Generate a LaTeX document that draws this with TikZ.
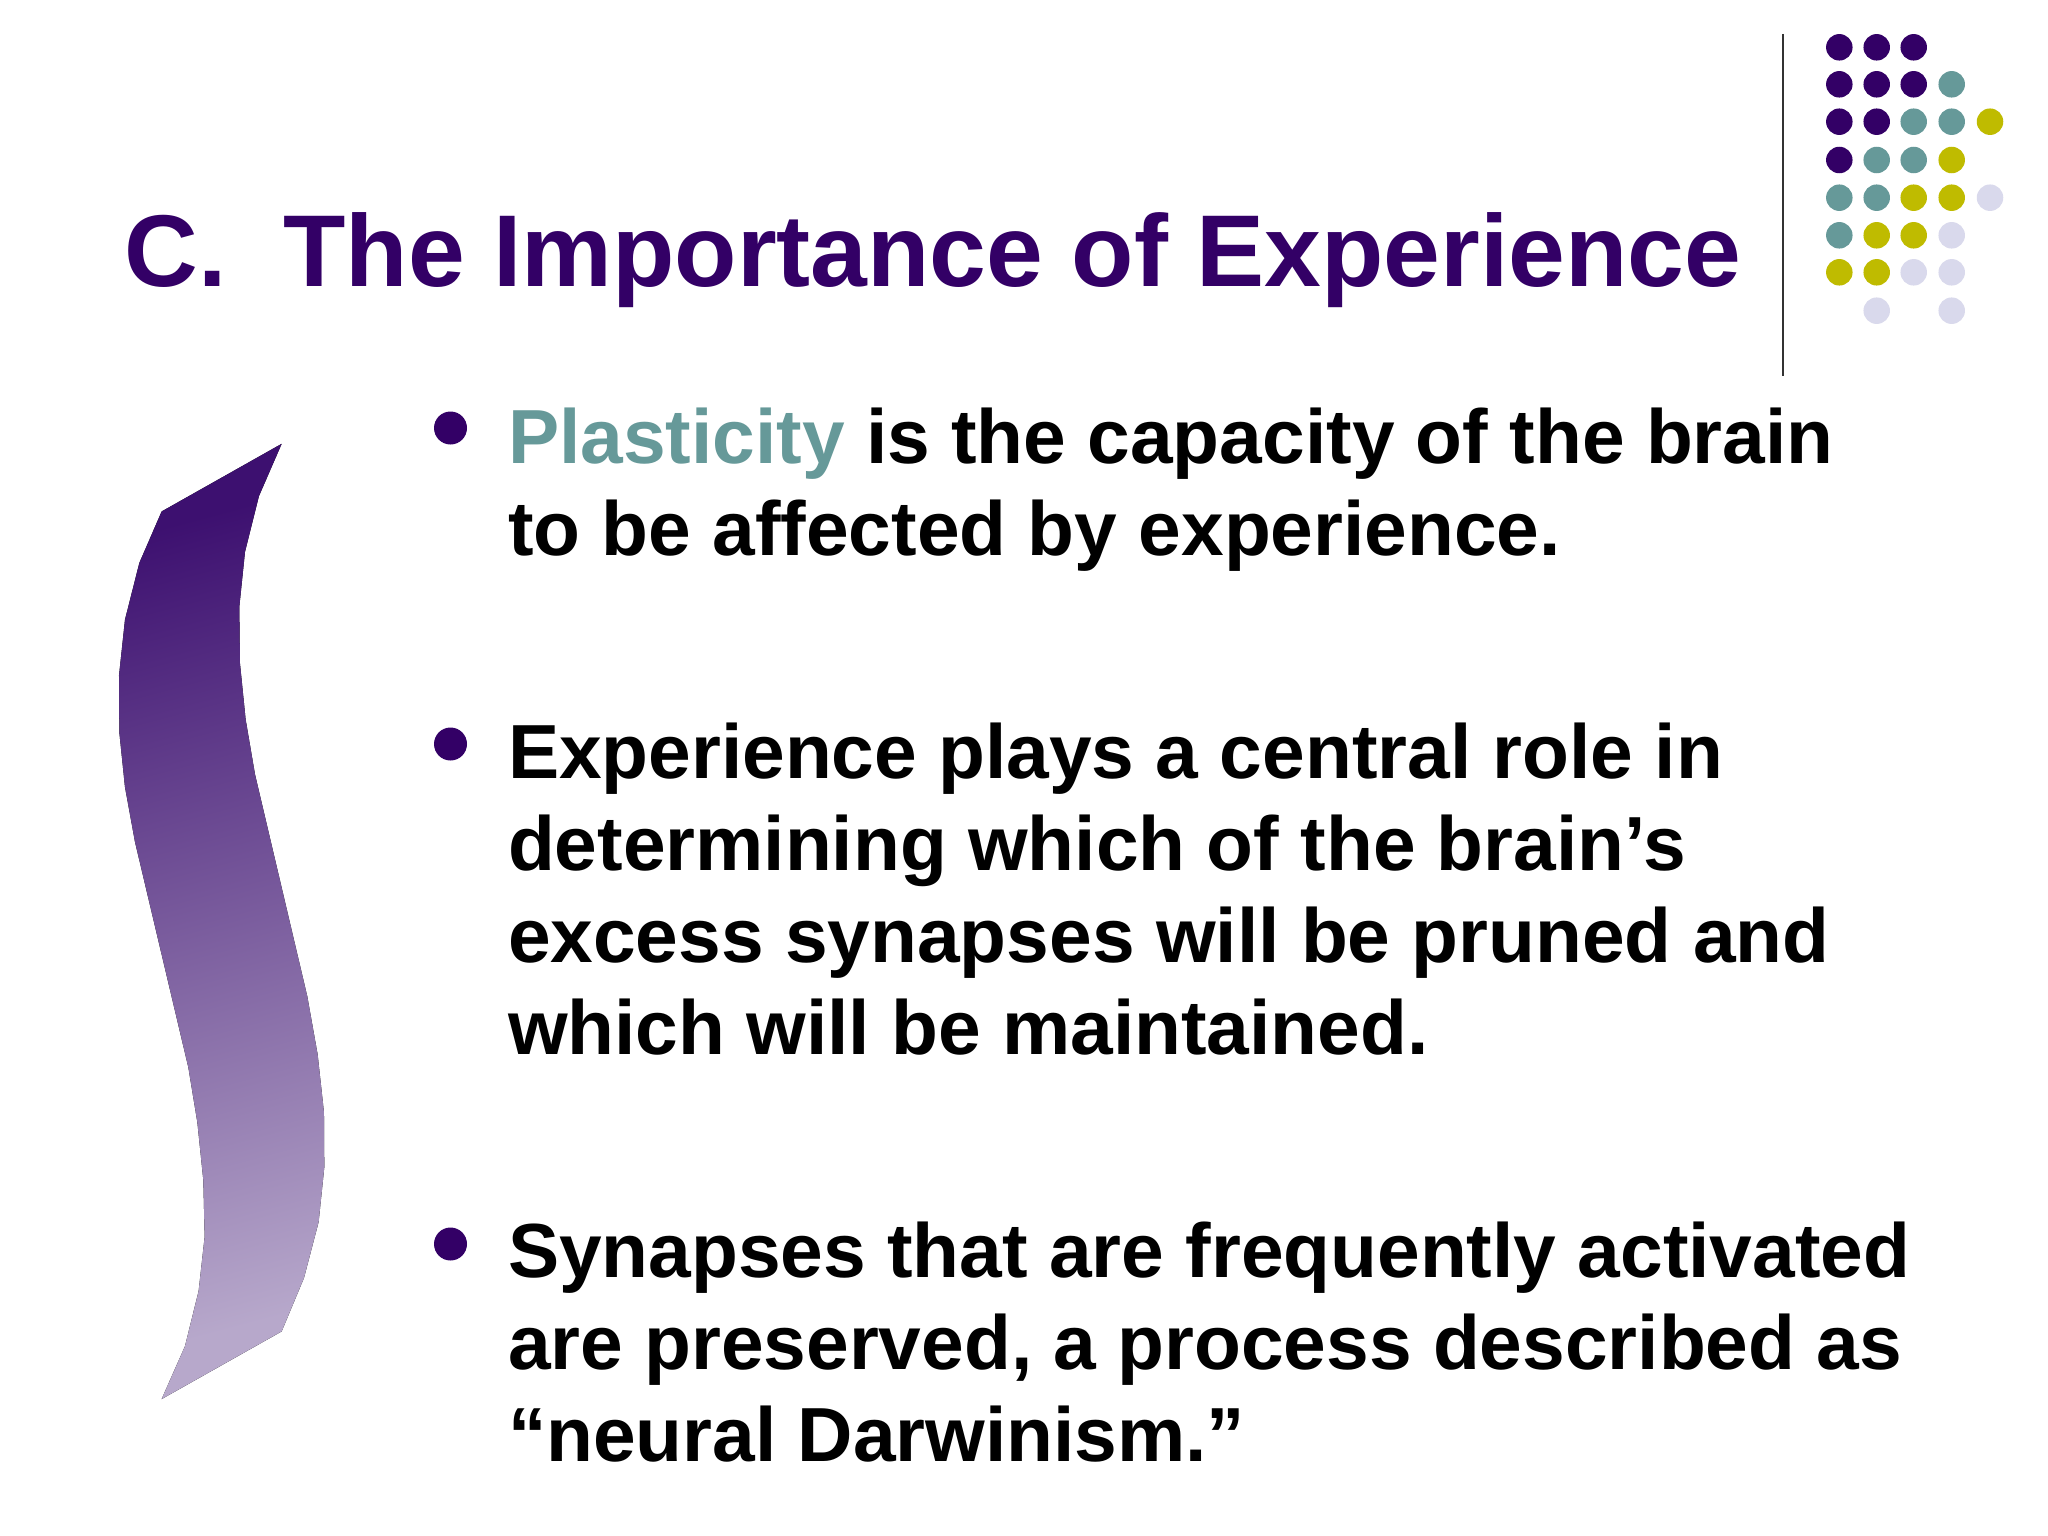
\documentclass[tikz,border=0pt]{standalone}
\usepackage{fontspec}
\setmainfont{Liberation Sans}
\definecolor{dpurple}{HTML}{330066}
\definecolor{dteal}{HTML}{669999}
\definecolor{dolive}{HTML}{BFBB00}
\definecolor{dlav}{HTML}{D9D9EC}
\definecolor{rtop}{HTML}{3D1070}
\definecolor{rbot}{HTML}{B7A8CB}
\tikzset{
  x=1pt,y=-1pt,
  dot/.style={circle,fill=#1,inner sep=0pt,minimum size=26.5pt},
  bulletdot/.style={circle,fill=dpurple,inner sep=0pt,minimum size=33pt},
  bodytext/.style={anchor=north west,align=left,inner sep=0pt,font=\fontsize{76.7}{92}\bfseries\selectfont},
  titletext/.style={anchor=base west,inner sep=0pt,text=dpurple,font=\fontsize{102.07}{110}\bfseries\selectfont}
}
\begin{document}
\begin{tikzpicture}
\useasboundingbox (0,0) rectangle (2048,1536);
\fill[white] (0,0) rectangle (2048,1536);
% ribbon
\begin{scope}[shift={(80,420)},x=0.3333pt,y=-0.6441pt]
\fill[top color=rtop,bottom color=rbot,shading angle=15]
 (245,142)--(178,222)--(135,310)--(117,397)--(118,485)--(135,570)--(165,655)--(325,1005)--(352,1090)--(370,1180)--(374,1268)--(356,1352)--(315,1438)--(245,1520)--(605,1415)--(672,1332)--(716,1245)--(733,1160)--(732,1075)--(713,985)--(682,895)--(525,550)--(497,465)--(480,378)--(478,290)--(495,205)--(537,118)--(605,37)--cycle;
\end{scope}
% title
\node[titletext] (title) at (124.5,286.5) {C.\ \ The Importance of Experience};
% rule
\coordinate (ruletop) at (1783,34);
\coordinate (rulebot) at (1783,376);
\draw[line width=2pt,black!80] (ruletop) -- (rulebot);
% dots
\foreach \nm/\cx/\cy/\col in {
a1/1839.3/47.3/dpurple,a2/1876.7/47.3/dpurple,a3/1913.7/47.3/dpurple,
b1/1839.3/84.3/dpurple,b2/1876.7/84.3/dpurple,b3/1913.7/84.3/dpurple,b4/1951.7/84.3/dteal,
c1/1839.3/121.7/dpurple,c2/1876.7/121.7/dpurple,c3/1913.7/121.7/dteal,c4/1951.7/121.7/dteal,c5/1990/121.7/dolive,
d1/1839.3/160/dpurple,d2/1876.7/160/dteal,d3/1913.7/160/dteal,d4/1951.7/160/dolive,
e1/1839.3/197.7/dteal,e2/1876.7/197.7/dteal,e3/1913.7/197.7/dolive,e4/1951.7/197.7/dolive,e5/1990/197.7/dlav,
f1/1839.3/235.3/dteal,f2/1876.7/235.3/dolive,f3/1913.7/235.3/dolive,f4/1951.7/235.3/dlav,
g1/1839.3/272.3/dolive,g2/1876.7/272.3/dolive,g3/1913.7/272.3/dlav,g4/1951.7/272.3/dlav,
h2/1876.7/310.7/dlav,h4/1951.7/310.7/dlav}
  {\node[dot=\col] (\nm) at (\cx,\cy) {};}
% bullets
\node[bulletdot] (b1dot) at (450.5,428) {};
\node[bulletdot] (b2dot) at (450.5,744) {};
\node[bulletdot] (b3dot) at (450.5,1244) {};
% text
\node[bodytext] (p1) at (507.8,408) {\textcolor{dteal}{Plasticity} is the capacity of the brain\\to be affected by experience.};
\node[bodytext] (p2) at (507.8,723) {Experience plays a central role in\\determining which of the brain’s\\excess synapses will be pruned and\\which will be maintained.};
\node[bodytext] (p3) at (507.8,1222) {Synapses that are frequently activated\\are preserved, a process described as\\“neural Darwinism.”};
\end{tikzpicture}
\end{document}
